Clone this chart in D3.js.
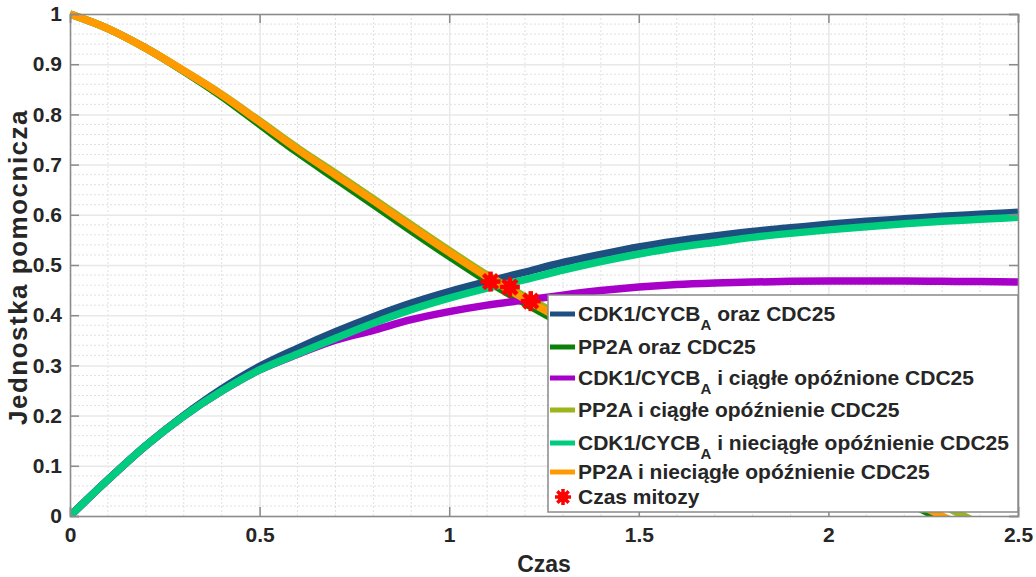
<!DOCTYPE html>
<html>
<head>
<meta charset="utf-8">
<script src="https://cdn.jsdelivr.net/npm/d3@7"></script>
<style>
  body { margin: 0; background: #fff; }
  text { font-family: "Liberation Sans", Arial, sans-serif; font-weight: bold; fill: #262626; }
</style>
</head>
<body>
<svg id="chart" width="1036" height="577"></svg>
<script>
// czas (os x)
const times = [0, 0.1, 0.2, 0.3, 0.4, 0.5, 0.6, 0.7, 0.8, 0.9, 1.0, 1.1, 1.2,
  1.3, 1.4, 1.5, 1.6, 1.7, 1.8, 1.9, 2.0, 2.1, 2.2, 2.3, 2.4, 2.5];

// serie
const cdkOraz = [0, 0.072, 0.140, 0.200, 0.253, 0.298, 0.334, 0.367, 0.397, 0.424, 0.447, 0.467, 0.486,
  0.505, 0.521, 0.536, 0.548, 0.558, 0.567, 0.574, 0.581, 0.587, 0.592, 0.597, 0.601, 0.605];
const pp2aOraz = [1.0, 0.971, 0.932, 0.886, 0.836, 0.780, 0.724, 0.672, 0.620, 0.568, 0.517, 0.468, 0.424,
  0.382, 0.341, 0.301, 0.261, 0.222, 0.183, 0.145, 0.107, 0.070, 0.030, -0.007, -0.045, -0.08];
const cdkCiagle = [0, 0.072, 0.140, 0.199, 0.249, 0.291, 0.322, 0.350, 0.370, 0.391, 0.407, 0.420, 0.430,
  0.440, 0.449, 0.456, 0.461, 0.464, 0.466, 0.4675, 0.468, 0.468, 0.468, 0.4675, 0.467, 0.466];
const pp2aCiagle = [1.0, 0.971, 0.932, 0.887, 0.840, 0.787, 0.733, 0.683, 0.632, 0.580, 0.529, 0.480, 0.437,
  0.396, 0.357, 0.318, 0.280, 0.242, 0.205, 0.168, 0.132, 0.096, 0.060, 0.022, -0.016, -0.05];
const cdkNieciagle = [0, 0.072, 0.140, 0.199, 0.249, 0.291, 0.323, 0.354, 0.384, 0.411, 0.434, 0.454, 0.471,
  0.490, 0.507, 0.522, 0.535, 0.545, 0.555, 0.563, 0.570, 0.576, 0.582, 0.587, 0.591, 0.595];
const pp2aNieciagle = [1.0, 0.971, 0.932, 0.887, 0.839, 0.785, 0.730, 0.679, 0.628, 0.576, 0.525, 0.476, 0.432,
  0.390, 0.349, 0.308, 0.268, 0.228, 0.189, 0.150, 0.112, 0.074, 0.037, 0.000, -0.036, -0.07];

// czas mitozy
const mitosisTimes = [1.109, 1.160, 1.215];
const mitosisValues = [0.467, 0.456, 0.428];

const legendLabels = [
  "CDK1/CYCB|A| oraz CDC25",
  "PP2A oraz CDC25",
  "CDK1/CYCB|A| i ciągłe opóźnione CDC25",
  "PP2A i ciągłe opóźnienie CDC25",
  "CDK1/CYCB|A| i nieciągłe opóźnienie CDC25",
  "PP2A i nieciągłe opóźnienie CDC25",
  "Czas mitozy"
];

const xTicks = [0, 0.5, 1, 1.5, 2, 2.5];
const yTicks = [0, 0.1, 0.2, 0.3, 0.4, 0.5, 0.6, 0.7, 0.8, 0.9, 1];

const series = [
  { values: cdkOraz, color: "#1d4f80" },
  { values: pp2aOraz, color: "#0a820a" },
  { values: cdkCiagle, color: "#a700c9" },
  { values: pp2aCiagle, color: "#9bb51c" },
  { values: cdkNieciagle, color: "#00cc7e" },
  { values: pp2aNieciagle, color: "#ff9a00" }
];

const MARGIN = { left: 70, top: 14, right: 18, bottom: 61 };
const WIDTH = 1036 - MARGIN.left - MARGIN.right;
const HEIGHT = 577 - MARGIN.top - MARGIN.bottom;

const x = d3.scaleLinear().domain([0, 2.5]).range([0, WIDTH]);
const y = d3.scaleLinear().domain([0, 1]).range([HEIGHT, 0]);

const svg = d3.select("#chart");
const g = svg.append("g").attr("transform", `translate(${MARGIN.left},${MARGIN.top})`);

// siatka pomocnicza (kropkowana)
const minorX = d3.range(0, 2.501, 0.1).filter(v => Math.abs(v * 2 - Math.round(v * 2)) > 1e-6);
const minorY = d3.range(0, 1.001, 0.02).filter(v => Math.abs(v * 10 - Math.round(v * 10)) > 1e-6);
g.append("g").selectAll("line").data(minorX).join("line")
  .attr("x1", d => x(d)).attr("x2", d => x(d)).attr("y1", 0).attr("y2", HEIGHT)
  .attr("stroke", "#e0e0e0").attr("stroke-dasharray", "2,2");
g.append("g").selectAll("line").data(minorY).join("line")
  .attr("y1", d => y(d)).attr("y2", d => y(d)).attr("x1", 0).attr("x2", WIDTH)
  .attr("stroke", "#e0e0e0").attr("stroke-dasharray", "2,2");

// siatka glowna
g.append("g").call(d3.axisBottom(x).tickValues(xTicks).tickSize(HEIGHT).tickFormat(""))
  .call(s => s.select(".domain").remove())
  .selectAll("line").attr("stroke", "#e8e8e8").attr("stroke-width", 1.5);
g.append("g").call(d3.axisLeft(y).tickValues(yTicks).tickSize(-WIDTH).tickFormat(""))
  .call(s => s.select(".domain").remove())
  .selectAll("line").attr("stroke", "#e8e8e8").attr("stroke-width", 1.5);

// linie danych
svg.append("clipPath").attr("id", "clip")
  .append("rect").attr("x", 0).attr("y", -6).attr("width", WIDTH).attr("height", HEIGHT + 6);

const line = d3.line()
  .x((d, i) => x(times[i]))
  .y(d => y(d))
  .curve(d3.curveMonotoneX);

g.append("g").attr("clip-path", "url(#clip)")
  .selectAll("path").data(series).join("path")
  .attr("d", d => line(d.values))
  .attr("fill", "none")
  .attr("stroke", d => d.color)
  .attr("stroke-width", 7.5);

// znacznik gwiazdki
function star(sel, r, w) {
  [0, 45, 90, 135].forEach(a => {
    sel.append("line")
      .attr("x1", -r).attr("x2", r).attr("y1", 0).attr("y2", 0)
      .attr("transform", `rotate(${a})`)
      .attr("stroke", "#ff0000").attr("stroke-width", w);
  });
  sel.append("circle").attr("r", r * 0.65).attr("fill", "#ff0000");
}

g.append("g").selectAll("g").data(mitosisTimes).join("g")
  .attr("transform", (d, i) => `translate(${x(d)},${y(mitosisValues[i])})`)
  .each(function () { star(d3.select(this), 10, 4.5); });

// osie (ramka)
const axisColor = "#8a8a8a";
const axes = g.append("g");
const bottomAxis = axes.append("g").attr("transform", `translate(0,${HEIGHT})`)
  .call(d3.axisBottom(x).tickValues(xTicks).tickSize(-9).tickPadding(11).tickFormat(d3.format("")));
const leftAxis = axes.append("g")
  .call(d3.axisLeft(y).tickValues(yTicks).tickSize(-9).tickPadding(8).tickFormat(d3.format("")));
axes.append("g").call(d3.axisTop(x).tickValues(xTicks).tickSize(-9).tickFormat(""));
axes.append("g").attr("transform", `translate(${WIDTH},0)`)
  .call(d3.axisRight(y).tickValues(yTicks).tickSize(-9).tickFormat(""));

axes.selectAll(".domain").attr("stroke", axisColor).attr("stroke-width", 1.5);
axes.selectAll(".tick line").attr("stroke", axisColor).attr("stroke-width", 1.5);
axes.selectAll("text").attr("font-size", 21).attr("fill", "#262626").attr("font-family", null);

// podpisy osi
svg.append("text").attr("x", MARGIN.left + WIDTH / 2).attr("y", 572)
  .attr("text-anchor", "middle").attr("font-size", 23).text("Czas");
svg.append("text").attr("transform", `translate(27,${MARGIN.top + HEIGHT / 2 + 2}) rotate(-90)`)
  .attr("text-anchor", "middle").attr("font-size", 26).attr("letter-spacing", 1.5)
  .text("Jednostka pomocnicza");

// legenda
const LEG = { x: 548, y: 295, w: 470, h: 217 };
const rowY = [314, 347, 378, 410, 443, 472, 497];
const legend = svg.append("g");
legend.append("rect").attr("x", LEG.x).attr("y", LEG.y).attr("width", LEG.w).attr("height", LEG.h)
  .attr("fill", "#fff").attr("stroke", axisColor).attr("stroke-width", 1.5);

legendLabels.forEach((label, i) => {
  const ry = rowY[i];
  if (i < series.length) {
    legend.append("line").attr("x1", LEG.x + 2).attr("x2", LEG.x + 27).attr("y1", ry).attr("y2", ry)
      .attr("stroke", series[i].color).attr("stroke-width", 5);
  } else {
    const s = legend.append("g").attr("transform", `translate(${LEG.x + 15},${ry})`);
    star(s, 8, 3.5);
  }
  const parts = label.split("|");
  const t = legend.append("text").attr("x", LEG.x + 30).attr("y", ry + 7).attr("font-size", 21)
    .attr("fill", "#000");
  t.append("tspan").text(parts[0]);
  if (parts.length > 1) {
    t.append("tspan").attr("font-size", 15).attr("dy", 9).text(parts[1]);
    t.append("tspan").attr("dy", -9).text(parts[2]);
  }
});
</script>
</body>
</html>
